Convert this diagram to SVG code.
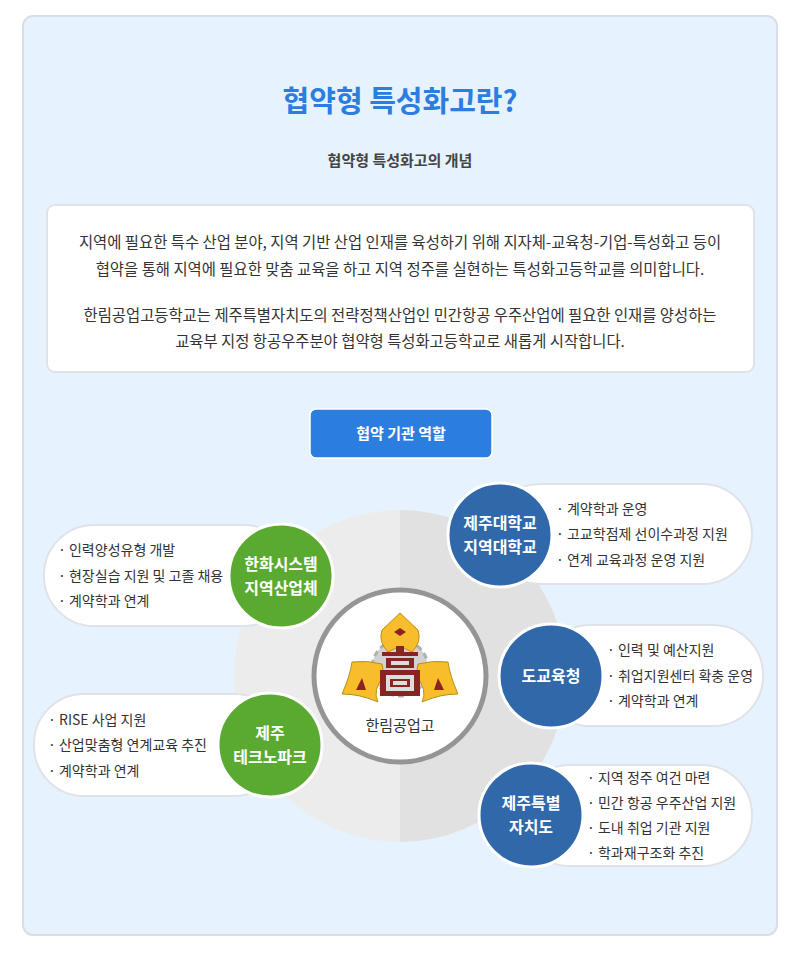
<svg xmlns="http://www.w3.org/2000/svg" width="800" height="954" viewBox="0 0 800 954">
<style>
text{font-family:"Noto Sans CJK KR","Noto Sans",sans-serif}
.t{font-size:14px;fill:#333}
.body{font-size:15.4px;fill:#333;text-anchor:middle}
.nl{font-size:16px;fill:#fff;text-anchor:middle;font-weight:bold}
.box{fill:#fff;stroke:#dfe3e8;stroke-width:2}
.g{fill:#5aaa32;stroke:#fff;stroke-width:3}
.b{fill:#3068a9;stroke:#fff;stroke-width:3}
</style>
<rect x="0" y="0" width="800" height="954" fill="#fff"/>
<rect x="23" y="16" width="754" height="919" rx="10" fill="#e6f2fd" stroke="#d9dee6" stroke-width="2"/>
<text x="400" y="112" font-size="29" font-weight="bold" fill="#2b7de0" text-anchor="middle">협약형 특성화고란?</text>
<text x="400" y="166" font-size="15" font-weight="bold" fill="#444" text-anchor="middle">협약형 특성화고의 개념</text>
<rect x="47" y="205" width="707" height="167" rx="8" class="box"/>
<text class="body" x="400" y="248">지역에 필요한 특수 산업 분야, 지역 기반 산업 인재를 육성하기 위해 지자체-교육청-기업-특성화고 등이</text>
<text class="body" x="400" y="275">협약을 통해 지역에 필요한 맞춤 교육을 하고 지역 정주를 실현하는 특성화고등학교를 의미합니다.</text>
<text class="body" x="400" y="321">한림공업고등학교는 제주특별자치도의 전략정책산업인 민간항공 우주산업에 필요한 인재를 양성하는</text>
<text class="body" x="400" y="347">교육부 지정 항공우주분야 협약형 특성화고등학교로 새롭게 시작합니다.</text>
<rect x="310" y="409" width="182" height="49" rx="6" fill="#2b7de0" stroke="#fff" stroke-width="1.5"/>
<text x="401" y="439" font-size="15" font-weight="bold" fill="#fff" text-anchor="middle">협약 기관 역할</text>
<path d="M400 510 A166 166 0 0 0 400 842 Z" fill="#ececec"/>
<path d="M400 510 A166 166 0 0 1 400 842 Z" fill="#e1e1e1"/>
<g id="connectors"></g>
<g id="center">
<circle cx="400" cy="676" r="86" fill="#fff" stroke="#959595" stroke-width="5"/>
<circle cx="400" cy="668" r="28" fill="#d2d2d2" stroke="#b0b0b0" stroke-width="3" stroke-dasharray="6 4"/>
<g stroke="#b8901a" stroke-width="1" fill="#f7bd2a">
<path d="M400 613 L382 630 Q378 642 388 652 L400 646 L412 652 Q422 642 418 630 Z"/>
<path d="M342 694 Q350 676 352 662 Q366 660 382 664 L384 676 Q372 690 378 702 Q360 694 342 694 Z"/>
<path d="M458 694 Q450 676 448 662 Q434 660 418 664 L416 676 Q428 690 422 702 Q440 694 458 694 Z"/>
</g>
<polygon points="400,628 406,632 400,636 394,632" fill="#8b2323"/>
<polygon points="356,690 362,678 366,690" fill="#8b2323"/>
<polygon points="444,690 438,678 434,690" fill="#8b2323"/>
<rect x="396" y="646" width="8" height="6" fill="#8b2323"/>
<rect x="382" y="652" width="36" height="4" fill="#8b2323"/>
<rect x="386" y="658" width="28" height="10" fill="#8b2323"/>
<rect x="391" y="661" width="18" height="4" fill="#ddd"/>
<rect x="380" y="670" width="40" height="26" fill="#8b2323"/>
<rect x="386" y="675" width="28" height="16" fill="#ddd"/>
<rect x="390" y="679" width="20" height="8" fill="#8b2323"/>
<rect x="393" y="681" width="14" height="4" fill="#ddd"/>
<text x="400" y="731" font-size="15" fill="#333" text-anchor="middle">한림공업고</text>
</g>
<g id="hanwha">
<rect x="44" y="525" width="250" height="101" rx="50" class="box"/>
<text class="t" x="58" y="555">· 인력양성유형 개발</text>
<text class="t" x="58" y="581">· 현장실습 지원 및 고졸 채용</text>
<text class="t" x="58" y="606">· 계약학과 연계</text>
<circle cx="281" cy="576" r="52" class="g"/>
<text class="nl" x="281" y="570">한화시스템</text>
<text class="nl" x="281" y="594">지역산업체</text>
</g>
<g id="technopark">
<rect x="34" y="694" width="250" height="102" rx="50" class="box"/>
<text class="t" x="48" y="725">· RISE 사업 지원</text>
<text class="t" x="48" y="750">· 산업맞춤형 연계교육 추진</text>
<text class="t" x="48" y="776">· 계약학과 연계</text>
<circle cx="270" cy="745" r="52" class="g"/>
<text class="nl" x="270" y="739">제주</text>
<text class="nl" x="270" y="763">테크노파크</text>
</g>
<g id="jnu">
<rect x="490" y="484" width="262" height="100" rx="50" class="box"/>
<text class="t" x="556" y="514">· 계약학과 운영</text>
<text class="t" x="556" y="539">· 고교학점제 선이수과정 지원</text>
<text class="t" x="556" y="565">· 연계 교육과정 운영 지원</text>
<circle cx="500" cy="535" r="52" class="b"/>
<text class="nl" x="500" y="529">제주대학교</text>
<text class="nl" x="500" y="553">지역대학교</text>
</g>
<g id="edu">
<rect x="540" y="625" width="223" height="101" rx="50" class="box"/>
<text class="t" x="607" y="655">· 인력 및 예산지원</text>
<text class="t" x="607" y="681">· 취업지원센터 확충 운영</text>
<text class="t" x="607" y="706">· 계약학과 연계</text>
<circle cx="551" cy="676" r="52" class="b"/>
<text class="nl" x="551" y="682">도교육청</text>
</g>
<g id="jeju">
<rect x="520" y="765" width="232" height="101" rx="50" class="box"/>
<text class="t" x="587" y="783">· 지역 정주 여건 마련</text>
<text class="t" x="587" y="808">· 민간 항공 우주산업 지원</text>
<text class="t" x="587" y="833">· 도내 취업 기관 지원</text>
<text class="t" x="587" y="858">· 학과재구조화 추진</text>
<circle cx="531" cy="815" r="52" class="b"/>
<text class="nl" x="531" y="809">제주특별</text>
<text class="nl" x="531" y="833">자치도</text>
</g>
</svg>
